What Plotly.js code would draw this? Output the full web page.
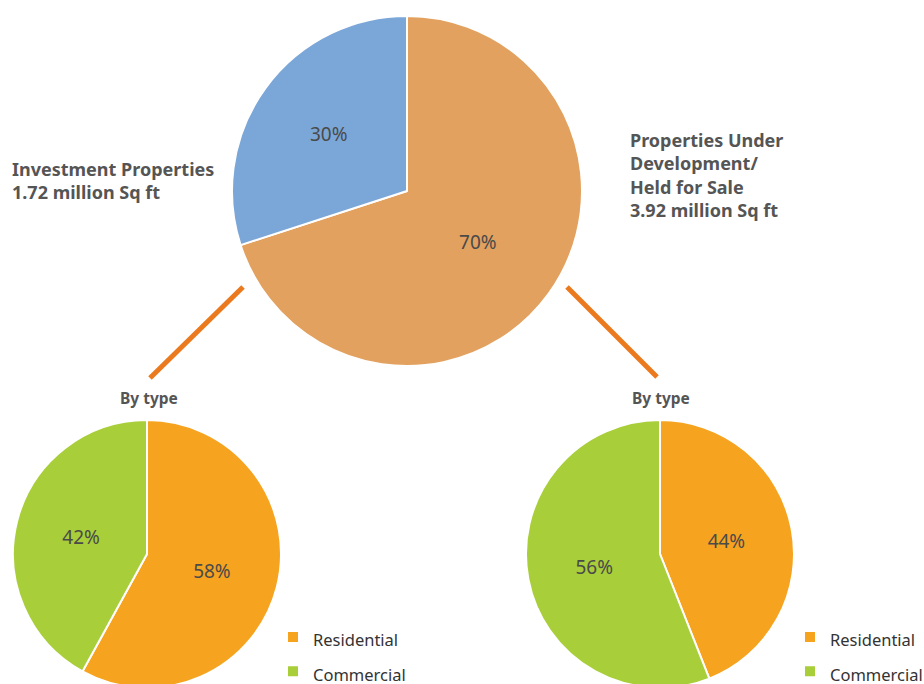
<!DOCTYPE html>
<html>
<head>
<meta charset="utf-8">
<script src="https://cdn.plot.ly/plotly-3.0.1.min.js"></script>
<style>
html,body{margin:0;padding:0;overflow:hidden;background:#fff;}
#chart{width:924px;height:690px;}
</style>
</head>
<body>
<div id="chart"></div>
<script>
// Data
const totalLabels = ["Properties Under Development/Held for Sale", "Investment Properties"];
const totalValues = [70, 30];
const totalColors = ["#E2A15E", "#7BA7D8"];

const typeLabels = ["Residential", "Commercial"];
const investmentByType = [58, 42];
const developmentByType = [44, 56];
const typeColors = ["#F6A41F", "#A8CE3A"];

const investmentTitle = "Investment Properties<br>1.72 million Sq ft";
const developmentTitle = "Properties Under<br>Development/<br>Held for Sale<br>3.92 million Sq ft";
const subTitle = "By type";

const W = 924, H = 690;
const px = v => v / W;
const py = v => 1 - v / H;

const FAM = "Noto Sans, Open Sans, sans-serif";
const textFont = {family: FAM, size: 19, color: "#4a4a4a"};
const legendTextSize = 16.5;
// legend labels: shown at legendTextSize while the legend row height follows legend.font.size;
// the second pie gets an invisible suffix so that its own legend is not merged with the first
const legendLabel = (l, tag) => '<span style="font-size:' + legendTextSize + 'px">' + l + '</span>' + (tag || '');

const traces = [
  {
    type: "pie",
    labels: totalLabels,
    values: totalValues,
    sort: false,
    direction: "clockwise",
    rotation: 0,
    marker: {colors: totalColors, line: {color: "#ffffff", width: 2}},
    texttemplate: "%{percent:.0%}",
    textposition: "inside",
    insidetextorientation: "horizontal",
    textfont: textFont,
    showlegend: false,
    domain: {x: [px(232), px(582)], y: [py(366), py(16)]}
  },
  {
    type: "pie",
    labels: typeLabels.map(l => legendLabel(l)),
    values: investmentByType,
    sort: false,
    direction: "clockwise",
    rotation: 0,
    marker: {colors: typeColors, line: {color: "#ffffff", width: 2}},
    texttemplate: "%{percent:.0%}",
    textposition: "inside",
    insidetextorientation: "horizontal",
    textfont: textFont,
    showlegend: true,
    legend: "legend",
    domain: {x: [px(13), px(281)], y: [py(688), py(420)]}
  },
  {
    type: "pie",
    labels: typeLabels.map(l => legendLabel(l, '<span style="font-size:1px"> </span>')),
    values: developmentByType,
    sort: false,
    direction: "clockwise",
    rotation: 0,
    marker: {colors: typeColors, line: {color: "#ffffff", width: 2}},
    texttemplate: "%{percent:.0%}",
    textposition: "inside",
    insidetextorientation: "horizontal",
    textfont: textFont,
    showlegend: true,
    legend: "legend2",
    domain: {x: [px(526), px(794)], y: [py(688), py(420)]}
  }
];

const legendFont = {family: FAM, size: 24, color: "#333333"};
const titleFont = {family: FAM, size: 18, color: "#555555", weight: "bold"};

const layout = {
  width: W, height: H,
  margin: {l: 0, r: 0, t: 0, b: 0, autoexpand: false},
  paper_bgcolor: "#ffffff",
  plot_bgcolor: "#ffffff",
  showlegend: true,
  legend: {
    x: px(273), y: py(615), xanchor: "left", yanchor: "top",
    font: legendFont, bgcolor: "rgba(0,0,0,0)", traceorder: "normal"
  },
  legend2: {
    x: px(790), y: py(615), xanchor: "left", yanchor: "top",
    font: legendFont, bgcolor: "rgba(0,0,0,0)", traceorder: "normal"
  },
  annotations: [
    {text: investmentTitle, x: px(10), y: py(180), xref: "paper", yref: "paper",
     xanchor: "left", yanchor: "middle", align: "left", showarrow: false, font: titleFont},
    {text: developmentTitle, x: px(628), y: py(175), xref: "paper", yref: "paper",
     xanchor: "left", yanchor: "middle", align: "left", showarrow: false, font: titleFont},
    {text: subTitle, x: px(149), y: py(398), xref: "paper", yref: "paper",
     xanchor: "center", yanchor: "middle", showarrow: false, font: Object.assign({}, titleFont, {size: 15.5})},
    {text: subTitle, x: px(661), y: py(398), xref: "paper", yref: "paper",
     xanchor: "center", yanchor: "middle", showarrow: false, font: Object.assign({}, titleFont, {size: 15.5})}
  ],
  shapes: [
    {type: "line", xref: "paper", yref: "paper", x0: px(243), y0: py(287), x1: px(150), y1: py(378),
     line: {color: "#EB7A1E", width: 5}},
    {type: "line", xref: "paper", yref: "paper", x0: px(567), y0: py(287), x1: px(657), y1: py(377),
     line: {color: "#EB7A1E", width: 5}}
  ]
};

Plotly.newPlot("chart", traces, layout, {displayModeBar: false, staticPlot: true});
</script>
</body>
</html>
